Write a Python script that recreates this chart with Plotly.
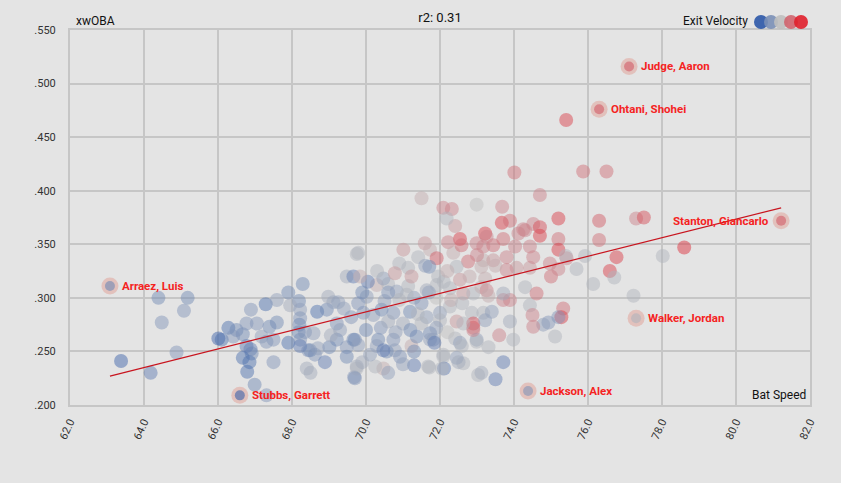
import plotly.graph_objects as go

# ---------------- data ----------------
bat_speed = [
    64.39, 65.18, 65.08, 64.48, 64.88, 63.38, 64.18, 66.01, 66.10, 66.28,
    66.50, 66.67, 66.41, 66.89, 67.29, 67.59, 67.90, 68.29, 68.19, 67.95,
    68.22, 68.68, 68.94, 69.12, 66.77, 67.05, 67.39, 67.59, 67.18, 67.31,
    67.90, 68.22, 68.18, 68.35, 68.58, 68.44, 68.62, 68.89, 69.01, 68.40,
    68.50, 66.88, 66.91, 66.67, 67.50, 66.79, 66.99, 69.21, 69.21, 69.48,
    69.75, 68.98, 69.25, 68.22, 68.20, 69.30, 69.48, 69.70, 69.68, 69.75,
    69.48, 67.31, 67.50, 68.22, 68.49, 68.70, 69.05, 66.77, 66.85,
    70.02, 69.79, 70.29, 70.60, 70.83, 71.14, 71.64, 71.91, 72.27, 72.63,
    72.90, 73.12, 69.93, 70.20, 70.42, 70.74, 71.00, 71.19, 71.64, 72.00,
    72.27, 72.45, 72.86, 72.90, 73.17, 69.66, 69.79, 70.33, 70.29, 70.74,
    70.78, 70.56, 70.92, 71.23, 71.37, 71.30, 71.73, 71.82, 72.00, 72.41,
    72.54, 72.63, 72.45, 72.09, 72.11, 71.71, 71.30, 70.47, 70.25, 70.11,
    69.75, 69.70, 73.03, 72.99,
    74.01, 75.87, 71.50, 72.09, 72.32, 72.99, 73.68, 74.70, 73.67, 73.89,
    72.41, 72.18, 71.59, 74.25, 74.52, 74.70, 75.20, 75.20, 75.20, 75.42,
    75.69, 74.70, 73.22, 73.71, 72.54, 72.22, 72.99, 73.44, 74.03, 74.43,
    71.01, 71.41, 69.79, 71.73, 71.91, 72.36, 72.76, 73.17, 73.44, 73.80,
    74.07, 74.43, 75.00, 74.30, 74.61, 75.33, 75.28, 74.93, 74.79, 74.52,
    74.43, 75.11, 73.89, 73.98, 73.71, 73.50, 73.12, 73.31, 72.99, 73.60,
    73.71, 73.89, 73.26, 73.31, 72.90, 72.90, 72.63, 72.59, 72.50, 72.05,
    71.68, 71.00, 70.60, 69.90, 72.09, 71.73, 71.85, 70.47,
    76.50, 76.30, 76.30, 74.30, 74.12, 73.26, 73.17, 74.52, 74.97, 75.40,
    75.92, 76.14, 76.59, 76.71, 76.77, 73.80, 75.20, 75.41, 77.30, 77.51,
    78.60, 78.02, 77.23, 75.20, 74.50, 73.71, 73.40, 73.22, 72.58, 70.90,
    71.14, 71.71, 72.45, 73.12, 73.22, 70.05, 70.47, 70.78, 71.23, 71.95,
    72.54, 69.66, 69.84,
    70.50, 70.90, 71.30, 71.50, 71.90, 72.30, 72.60, 70.60, 71.10, 71.70,
    72.10, 70.40, 70.80, 71.20, 71.50, 71.90, 72.20, 70.00, 69.60, 69.40,
    69.90, 70.30, 71.60, 72.20, 72.80, 73.50, 73.00, 70.60, 71.40,
]

xwoba = [
    0.300, 0.300, 0.288, 0.277, 0.249, 0.241, 0.230, 0.262, 0.261, 0.272,
    0.270, 0.266, 0.264, 0.289, 0.294, 0.298, 0.305, 0.313, 0.297, 0.293,
    0.289, 0.287, 0.289, 0.296, 0.276, 0.276, 0.273, 0.277, 0.264, 0.259,
    0.258, 0.261, 0.268, 0.268, 0.267, 0.251, 0.247, 0.240, 0.254, 0.234,
    0.230, 0.252, 0.248, 0.244, 0.240, 0.231, 0.219, 0.276, 0.261, 0.320,
    0.341, 0.301, 0.296, 0.281, 0.275, 0.270, 0.254, 0.261, 0.226, 0.236,
    0.245, 0.209, 0.261, 0.255, 0.251, 0.253, 0.265, 0.255, 0.240,
    0.301, 0.295, 0.312, 0.313, 0.306, 0.311, 0.307, 0.312, 0.309, 0.304,
    0.304, 0.310, 0.286, 0.284, 0.289, 0.286, 0.276, 0.287, 0.282, 0.286,
    0.292, 0.278, 0.286, 0.272, 0.286, 0.261, 0.256, 0.261, 0.255, 0.261,
    0.251, 0.250, 0.245, 0.255, 0.264, 0.250, 0.267, 0.261, 0.279, 0.262,
    0.258, 0.239, 0.244, 0.245, 0.234, 0.235, 0.237, 0.234, 0.236, 0.247,
    0.234, 0.225, 0.228, 0.261,
    0.417, 0.418, 0.393, 0.384, 0.383, 0.387, 0.385, 0.396, 0.370, 0.372,
    0.367, 0.374, 0.351, 0.364, 0.369, 0.366, 0.374, 0.355, 0.345, 0.337,
    0.327, 0.358, 0.360, 0.355, 0.355, 0.352, 0.351, 0.349, 0.348, 0.348,
    0.345, 0.338, 0.342, 0.345, 0.337, 0.342, 0.334, 0.335, 0.335, 0.338,
    0.328, 0.328, 0.320, 0.310, 0.304, 0.290, 0.282, 0.277, 0.275, 0.273,
    0.293, 0.264, 0.278, 0.261, 0.240, 0.224, 0.230, 0.254, 0.259, 0.265,
    0.298, 0.298, 0.307, 0.302, 0.276, 0.270, 0.276, 0.255, 0.240, 0.234,
    0.236, 0.238, 0.230, 0.240, 0.247, 0.261, 0.258, 0.251,
    0.418, 0.372, 0.354, 0.363, 0.360, 0.357, 0.348, 0.338, 0.332, 0.339,
    0.339, 0.313, 0.325, 0.319, 0.338, 0.326, 0.327, 0.466, 0.374, 0.375,
    0.347, 0.339, 0.302, 0.282, 0.284, 0.304, 0.287, 0.279, 0.349, 0.332,
    0.328, 0.329, 0.329, 0.329, 0.318, 0.315, 0.318, 0.323, 0.320, 0.320,
    0.317, 0.320, 0.320,
    0.297, 0.298, 0.300, 0.295, 0.300, 0.298, 0.295, 0.305, 0.303, 0.305,
    0.315, 0.272, 0.268, 0.270, 0.276, 0.272, 0.268, 0.270, 0.282, 0.290,
    0.305, 0.325, 0.330, 0.325, 0.320, 0.330, 0.340, 0.278, 0.285,
]

exit_velo = [
    88.0, 88.0, 88.5, 88.5, 88.5, 86.5, 87.5, 86.5, 87.0, 87.0,
    88.0, 88.0, 88.5, 88.5, 87.0, 89.0, 88.0, 88.0, 88.0, 89.5,
    89.0, 87.0, 88.0, 89.0, 88.5, 88.5, 88.0, 88.0, 89.0, 88.5,
    87.0, 88.5, 88.0, 88.5, 89.0, 88.5, 88.5, 87.5, 88.0, 89.5,
    89.5, 87.5, 88.0, 87.0, 88.5, 87.0, 88.0, 88.5, 88.0, 89.5,
    90.0, 89.5, 89.0, 88.5, 88.0, 89.0, 88.5, 88.0, 88.5, 89.5,
    88.0, 88.5, 88.5, 87.5, 88.0, 89.0, 89.5, 87.5, 87.0,
    89.0, 88.5, 91.0, 90.0, 89.0, 90.0, 89.5, 90.0, 90.0, 91.5,
    90.0, 91.0, 88.5, 89.0, 88.0, 88.5, 89.5, 88.0, 89.0, 89.0,
    90.0, 91.5, 90.0, 92.5, 90.0, 88.0, 89.0, 88.0, 89.0, 88.5,
    89.0, 88.0, 88.5, 91.0, 88.0, 88.0, 88.0, 89.0, 90.0, 90.0,
    89.0, 90.0, 89.0, 90.0, 87.5, 90.0, 87.5, 91.0, 90.0, 89.0,
    90.0, 88.5, 90.0, 89.0,
    92.5, 92.5, 91.0, 92.0, 92.0, 90.5, 92.0, 92.0, 94.0, 92.5,
    91.5, 90.0, 91.5, 92.0, 92.0, 93.5, 94.0, 92.5, 94.0, 92.0,
    90.0, 94.0, 94.0, 92.5, 94.0, 92.0, 92.0, 92.5, 92.0, 92.0,
    91.5, 90.0, 90.0, 91.0, 93.0, 91.0, 92.5, 91.0, 91.5, 92.0,
    91.5, 91.5, 92.5, 90.0, 92.5, 92.5, 94.0, 88.5, 89.0, 92.0,
    90.0, 90.0, 89.5, 90.0, 87.5, 87.5, 89.5, 90.0, 90.0, 92.0,
    92.0, 92.0, 92.0, 91.0, 93.5, 92.0, 90.0, 90.0, 89.5, 90.0,
    90.0, 89.0, 89.0, 89.5, 90.0, 89.0, 87.5, 87.5,
    92.5, 93.0, 92.5, 92.0, 92.0, 92.0, 92.0, 92.0, 92.0, 90.0,
    90.0, 90.0, 94.0, 90.0, 94.0, 92.0, 92.0, 94.0, 92.0, 93.5,
    94.5, 90.0, 90.0, 88.5, 92.0, 89.5, 89.0, 89.0, 92.5, 90.0,
    90.0, 88.0, 90.0, 91.0, 91.0, 87.5, 89.0, 91.5, 91.5, 90.0,
    91.5, 87.5, 91.0,
    89.0, 90.0, 89.0, 88.5, 90.5, 91.0, 90.0, 88.5, 90.0, 89.0,
    90.0, 88.5, 89.0, 88.0, 90.0, 89.0, 90.5, 88.0, 88.5, 89.0,
    88.0, 90.0, 89.0, 91.0, 91.0, 91.0, 92.0, 89.5, 90.0,
]

# highlighted players
player_names = ["Judge, Aaron", "Ohtani, Shohei", "Stanton, Giancarlo",
                "Walker, Jordan", "Jackson, Alex", "Stubbs, Garrett", "Arraez, Luis"]
player_bat_speed = [77.11, 76.30, 81.22, 77.30, 74.38, 66.59, 63.08]
player_xwoba = [0.516, 0.476, 0.372, 0.281, 0.213, 0.209, 0.311]
player_exit_velo = [93.0, 93.0, 93.0, 90.0, 88.5, 86.5, 88.0]
player_label_side = ["right", "right", "left", "right", "right", "right", "right"]

# regression line end points
fit_x = [63.08, 81.22]
fit_y = [0.227, 0.384]
r2_text = "r2: 0.31"

x_ticks = [62, 64, 66, 68, 70, 72, 74, 76, 78, 80, 82]
y_ticks = [0.20, 0.25, 0.30, 0.35, 0.40, 0.45, 0.50, 0.55]
y_tick_text = [".200", ".250", ".300", ".350", ".400", ".450", ".500", ".550"]

ev_min, ev_max = 86.0, 95.0
legend_colors = ["#2b57a7", "#7a8fb6", "#bfbfbf", "#d0646e", "#e01f2b"]

# ---------------- figure ----------------
BG = "#e4e4e4"
GRID = "#c6c6c6"
colorscale = [[0.0, "#2b57a7"], [0.25, "#7a8fb6"], [0.5, "#bfbfbf"],
              [0.75, "#d0646e"], [1.0, "#e01f2b"]]

fig = go.Figure()

fig.add_trace(go.Scatter(
    x=bat_speed, y=xwoba, mode="markers", hoverinfo="skip",
    marker=dict(size=14, color=exit_velo, colorscale=colorscale,
                cmin=ev_min, cmax=ev_max, opacity=0.48, line=dict(width=0)),
    showlegend=False,
))

fig.add_trace(go.Scatter(
    x=fit_x, y=fit_y, mode="lines", hoverinfo="skip",
    line=dict(color="#c8141e", width=1.2), showlegend=False,
))

# halo + point for highlighted players
fig.add_trace(go.Scatter(
    x=player_bat_speed, y=player_xwoba, mode="markers", hoverinfo="skip",
    marker=dict(size=17, color="rgba(222,105,85,0.28)", line=dict(width=0)),
    showlegend=False,
))
fig.add_trace(go.Scatter(
    x=player_bat_speed, y=player_xwoba, mode="markers", hoverinfo="skip",
    marker=dict(size=10, color=player_exit_velo, colorscale=colorscale,
                cmin=ev_min, cmax=ev_max, opacity=0.6, line=dict(width=0)),
    showlegend=False,
))

annotations = []
for name, px, py, side in zip(player_names, player_bat_speed, player_xwoba, player_label_side):
    annotations.append(dict(
        x=px, y=py, xref="x", yref="y", text=name, showarrow=False,
        xanchor="left" if side == "right" else "right",
        xshift=10 if side == "right" else -10, yshift=0,
        font=dict(family="Roboto", size=11.5, color="#f5231f", weight="bold"),
    ))

annotations += [
    dict(x=0, y=1, xref="paper", yref="paper", text="xwOBA", showarrow=False,
         xanchor="left", yanchor="bottom", xshift=4, yshift=0,
         font=dict(family="Roboto", size=12, color="#111")),
    dict(x=1, y=0, xref="paper", yref="paper", text="Bat Speed", showarrow=False,
         xanchor="right", yanchor="bottom", xshift=-2, yshift=1,
         font=dict(family="Roboto", size=12, color="#111")),
    dict(x=(750 - 70) / 740, y=1, xref="paper", yref="paper", text="Exit Velocity",
         showarrow=False, xanchor="right", yanchor="bottom", yshift=0,
         font=dict(family="Roboto", size=12, color="#111")),
]

shapes = []
legend_x0 = (761 - 70) / 740
legend_step = 10 / 740
for i, c in enumerate(legend_colors):
    cx = legend_x0 + i * legend_step
    shapes.append(dict(
        type="circle", xref="paper", yref="paper",
        xsizemode="pixel", ysizemode="pixel",
        xanchor=cx, yanchor=1 + 8 / 375,
        x0=-7, x1=7, y0=-7, y1=7,
        fillcolor=c, opacity=0.9, line=dict(width=0),
    ))

fig.update_layout(
    width=841, height=483,
    margin=dict(l=70, r=31, t=30, b=78, pad=0),
    paper_bgcolor=BG, plot_bgcolor=BG,
    title=dict(text=r2_text, x=0.5, xref="paper", xanchor="center", y=1 - 17 / 483,
               yanchor="middle", font=dict(family="Roboto", size=13, color="#111")),
    annotations=annotations, shapes=shapes,
    font=dict(family="Roboto"),
)

fig.update_xaxes(
    range=[62, 82], tickvals=x_ticks, tickformat=".1f", tickangle=-65,
    showgrid=True, gridcolor=GRID, gridwidth=1.5,
    showline=True, linecolor=GRID, linewidth=2, mirror=True,
    zeroline=False, ticks="", ticklabelstandoff=4,
    tickfont=dict(family="Roboto", size=11, color="#333"),
)
fig.update_yaxes(
    range=[0.2, 0.55], tickvals=y_ticks, ticktext=y_tick_text,
    showgrid=True, gridcolor=GRID, gridwidth=1.5,
    showline=True, linecolor=GRID, linewidth=2, mirror=True,
    zeroline=False, ticks="", ticklabelstandoff=10,
    tickfont=dict(family="Roboto", size=11, color="#333"),
)

fig.write_html("out.html", config={"displayModeBar": False},
               post_script="document.body.style.margin='0px';document.body.style.overflow='hidden';")
